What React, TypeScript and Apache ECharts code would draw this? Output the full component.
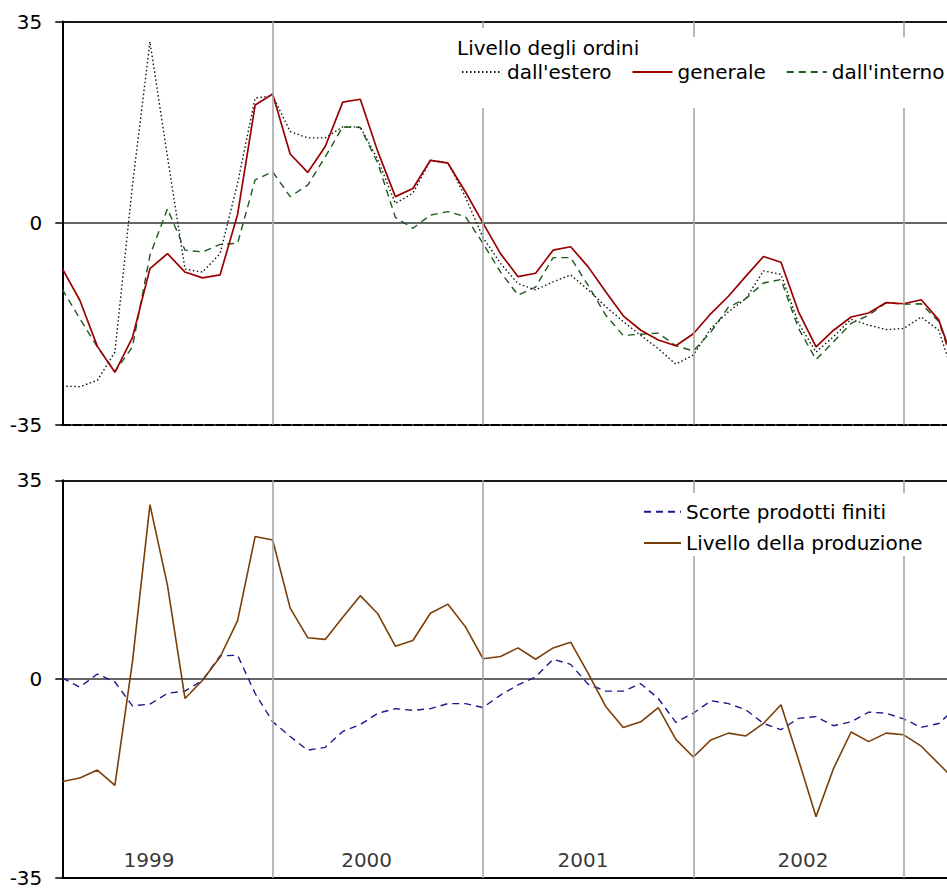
import React, { useEffect, useRef } from 'react';
import * as echarts from 'echarts';

// Monthly observations, Jan 1999 .. Apr 2003 (index = month number from Jan 1999)
const months: string[] = [];
for (let y = 1999; y <= 2003; y++) {
  for (let m = 1; m <= 12; m++) {
    if (months.length < 52) months.push(`${y}-${String(m).padStart(2, '0')}`);
  }
}

const ordiniEstero = [-28.3, -28.4, -27.3, -22.4, 6.5, 31.5, 11.5, -8.0, -8.5, -5.3, 6.9, 21.7, 22.1, 15.9, 14.8, 14.8, 16.7, 16.7, 11.0, 3.4, 5.2, 10.9, 10.5, 4.5, -2.5, -7.0, -10.5, -11.6, -10.2, -9.0, -11.6, -14.5, -17.1, -19.5, -21.8, -24.5, -22.9, -18.3, -15.4, -13.1, -8.3, -8.9, -17.4, -22.4, -19.7, -16.7, -17.7, -18.5, -18.3, -16.3, -18.6, -28.0];
const ordiniGenerale = [-7.9, -13.4, -21.4, -25.9, -19.9, -7.9, -5.3, -8.5, -9.5, -9.0, 1.5, 20.5, 22.4, 12.0, 8.8, 13.3, 21.0, 21.5, 12.4, 4.6, 6.0, 10.9, 10.4, 5.4, 0.0, -5.3, -9.3, -8.7, -4.7, -4.1, -7.6, -11.9, -16.1, -18.6, -20.3, -21.3, -19.2, -15.7, -12.7, -9.2, -5.8, -6.8, -15.4, -21.5, -18.6, -16.3, -15.6, -13.8, -14.0, -13.3, -16.8, -25.5];
const ordiniInterno = [-11.5, -16.6, -21.5, -25.8, -21.5, -5.6, 2.5, -4.7, -5.0, -3.7, -3.5, 7.5, 8.9, 4.6, 6.6, 11.5, 16.7, 16.6, 10.4, 1.0, -0.9, 1.4, 2.0, 1.1, -3.5, -8.5, -12.5, -11.1, -6.0, -6.0, -10.8, -16.0, -19.5, -19.3, -19.1, -21.3, -22.2, -18.9, -14.6, -13.1, -10.4, -9.8, -18.3, -23.7, -20.6, -17.4, -16.0, -13.8, -14.1, -14.0, -17.1, -26.0];
const scorte = [0.2, -1.4, 0.9, -0.5, -4.7, -4.4, -2.5, -2.1, -0.2, 4.1, 4.2, -2.5, -7.5, -10.1, -12.5, -12.0, -9.2, -8.0, -6.0, -5.2, -5.5, -5.2, -4.3, -4.3, -5.0, -2.8, -1.0, 0.4, 3.5, 2.6, -0.9, -2.1, -2.1, -0.8, -3.4, -7.6, -6.0, -3.8, -4.3, -5.4, -7.8, -8.9, -6.9, -6.6, -8.2, -7.5, -5.8, -6.0, -7.0, -8.5, -7.8, -5.0];
const produzione = [-18.0, -17.4, -16.0, -18.7, 3.0, 30.7, 16.5, -3.4, -0.2, 3.9, 10.3, 25.1, 24.5, 12.5, 7.3, 7.0, 10.9, 14.7, 11.5, 5.8, 6.8, 11.6, 13.2, 9.2, 3.6, 4.0, 5.5, 3.5, 5.5, 6.5, 1.0, -4.8, -8.5, -7.5, -5.0, -10.6, -13.7, -10.7, -9.5, -10.0, -7.8, -4.5, -14.2, -24.2, -15.7, -9.3, -11.0, -9.5, -9.8, -11.8, -14.9, -18.0];

const yearLabels = ['1999', '2000', '2001', '2002'];
const yearLabelMonth = [4.95, 17.36, 29.7, 42.25];
const yearStartMonth = [12, 24, 36, 48];
const yMin = -35;
const yMax = 35;
const yStep = 35;
const xVisibleMax = 50.47; // the picture is cut at the right edge, part-way through the last month

const NAMES = {
  estero: "dall'estero",
  generale: 'generale',
  interno: "dall'interno",
  scorte: 'Scorte prodotti finiti',
  produzione: 'Livello della produzione',
};

const FONT = 'DejaVu Sans';
const FS = 20;

const pairs = (arr: number[]) => arr.map((v, i) => [i, v]);

export default function App() {
  const ref = useRef<HTMLDivElement>(null);

  useEffect(() => {
    if (!ref.current) return;
    const chart = echarts.init(ref.current, undefined, { renderer: 'svg' });

    const gridLeft = 62.3;
    const gridWidth = 947 - gridLeft;

    const xBase = (gridIndex: number, position: 'top' | 'bottom', lineW: number, dashed: boolean) => ({
      type: 'value',
      gridIndex,
      position,
      min: 0,
      max: xVisibleMax,
      axisLine: { show: true, onZero: false, lineStyle: { color: '#000', width: lineW, type: dashed ? [8, 3] : 'solid' } },
      axisTick: { show: false },
      axisLabel: { show: false },
      splitLine: { show: false },
    });

    const yBase = (gridIndex: number) => ({
      type: 'value',
      gridIndex,
      min: yMin,
      max: yMax,
      interval: yStep,
      axisLine: { show: true, lineStyle: { color: '#000', width: 2 } },
      axisTick: { show: true, length: 7, lineStyle: { color: '#000', width: 1.5 } },
      axisLabel: { fontFamily: FONT, fontSize: FS, color: '#000', margin: 20, padding: [3, 0, 0, 0] },
      splitLine: { show: true, lineStyle: { color: '#333', width: 1.6 } },
    });

    const yearLines = {
      silent: true,
      symbol: 'none',
      label: { show: false },
      lineStyle: { color: '#a6a6a6', width: 1.6, type: 'solid' },
      emphasis: { disabled: true },
      data: yearStartMonth.map((m) => ({ xAxis: m })),
    };

    const legendText = { fontFamily: FONT, fontSize: FS, color: '#000', lineHeight: 22 };

    chart.setOption({
      animation: false,
      grid: [
        { left: gridLeft, top: 21.5, width: gridWidth, height: 403.2 },
        { left: gridLeft, top: 480.3, width: gridWidth, height: 400.4 },
      ],
      xAxis: [
        xBase(0, 'bottom', 2.2, true),
        xBase(0, 'top', 1.6, false),
        xBase(1, 'bottom', 2.2, false),
        xBase(1, 'top', 1.6, false),
      ],
      yAxis: [yBase(0), yBase(1)],
      legend: [
        {
          data: [NAMES.estero, NAMES.generale, NAMES.interno],
          left: 461,
          top: 61,
          padding: 0,
          itemWidth: 40,
          itemHeight: 14,
          itemGap: 20,
          itemStyle: { opacity: 0 },
          textStyle: legendText,
          selectedMode: false,
          z: 20,
        },
        {
          data: [NAMES.scorte, NAMES.produzione],
          orient: 'vertical',
          left: 643,
          top: 500.7,
          padding: 0,
          itemWidth: 37,
          itemHeight: 14,
          itemGap: 9.3,
          itemStyle: { opacity: 0 },
          textStyle: legendText,
          selectedMode: false,
          z: 20,
        },
      ],
      graphic: [
        { type: 'rect', shape: { x: 445, y: 28, width: 215, height: 80 }, style: { fill: '#fff' }, z: 10, silent: true },
        { type: 'rect', shape: { x: 660, y: 37, width: 300, height: 71 }, style: { fill: '#fff' }, z: 10, silent: true },
        { type: 'rect', shape: { x: 630, y: 493, width: 330, height: 63 }, style: { fill: '#fff' }, z: 10, silent: true },
        {
          type: 'text',
          x: 457,
          y: 48,
          z: 21,
          silent: true,
          style: { text: 'Livello degli ordini', fontFamily: FONT, fontSize: FS, fill: '#000', verticalAlign: 'middle' },
        },
      ],
      series: [
        {
          name: NAMES.estero,
          type: 'line',
          xAxisIndex: 0,
          yAxisIndex: 0,
          data: pairs(ordiniEstero),
          symbol: 'none',
          lineStyle: { color: '#111', width: 1.4, type: [1.5, 2.5] },
          itemStyle: { color: '#111' },
          z: 3,
        },
        {
          name: NAMES.generale,
          type: 'line',
          xAxisIndex: 0,
          yAxisIndex: 0,
          data: pairs(ordiniGenerale),
          symbol: 'none',
          lineStyle: { color: '#9a0000', width: 1.7 },
          itemStyle: { color: '#9a0000' },
          markLine: yearLines,
          z: 4,
        },
        {
          name: NAMES.interno,
          type: 'line',
          xAxisIndex: 0,
          yAxisIndex: 0,
          data: pairs(ordiniInterno),
          symbol: 'none',
          lineStyle: { color: '#1d5a1d', width: 1.4, type: [7, 5] },
          itemStyle: { color: '#1d5a1d' },
          z: 3,
        },
        {
          name: NAMES.scorte,
          type: 'line',
          xAxisIndex: 2,
          yAxisIndex: 1,
          data: pairs(scorte),
          symbol: 'none',
          lineStyle: { color: '#1a1a8a', width: 1.4, type: [7, 5] },
          itemStyle: { color: '#1a1a8a' },
          z: 3,
        },
        {
          name: NAMES.produzione,
          type: 'line',
          xAxisIndex: 2,
          yAxisIndex: 1,
          data: pairs(produzione),
          symbol: 'none',
          lineStyle: { color: '#7a3e08', width: 1.6 },
          itemStyle: { color: '#7a3e08' },
          markLine: yearLines,
          z: 4,
        },
        {
          name: 'anni',
          type: 'scatter',
          xAxisIndex: 2,
          yAxisIndex: 1,
          silent: true,
          symbol: 'circle',
          symbolSize: 1,
          itemStyle: { color: 'rgba(0,0,0,0)' },
          data: yearLabels.map((t, k) => [yearLabelMonth[k], -31.85, t]),
          label: {
            show: true,
            position: 'inside',
            formatter: (p: any) => p.data[2],
            fontFamily: FONT,
            fontSize: FS,
            color: '#000',
            textBorderWidth: 0,
          },
          z: 5,
        },
      ],
    });

    return () => chart.dispose();
  }, []);

  return (
    <div
      ref={ref}
      style={{ position: 'absolute', left: 0, top: 0, width: 947, height: 888, overflow: 'hidden', background: '#fff' }}
    />
  );
}
